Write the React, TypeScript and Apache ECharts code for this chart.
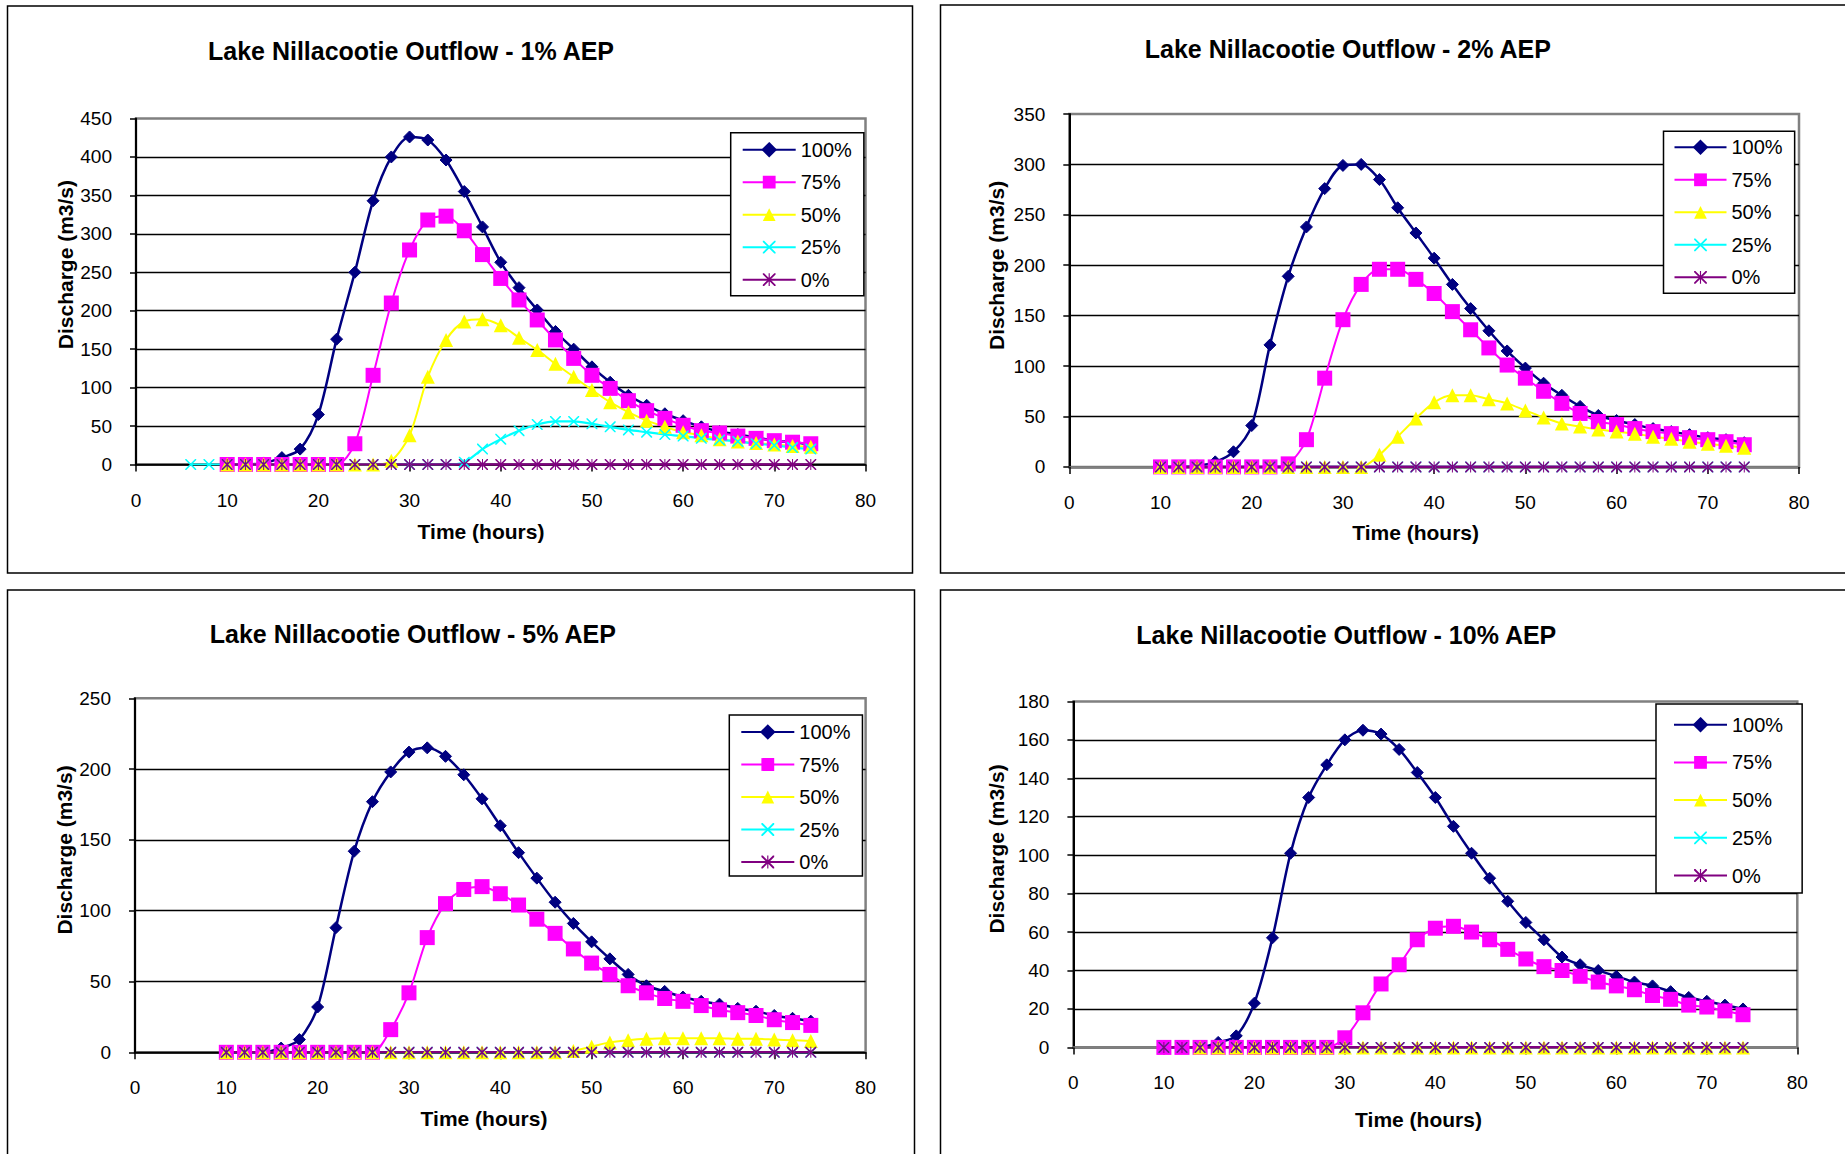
import React, { useEffect, useRef } from 'react';
import * as echarts from 'echarts';

// ---------- DATA ----------
const HOURS = [10, 12, 14, 16, 18, 20, 22, 24, 26, 28, 30, 32, 34, 36, 38, 40, 42, 44, 46, 48, 50, 52, 54, 56, 58, 60, 62, 64, 66, 68, 70, 72, 74];
const HOURS_EARLY = [6, 8, 10, 12, 14, 16, 18, 20, 22, 24, 26, 28, 30, 32, 34, 36, 38, 40, 42, 44, 46, 48, 50, 52, 54, 56, 58, 60, 62, 64, 66, 68, 70, 72, 74];

const SERIES_NAMES = ['100%', '75%', '50%', '25%', '0%'];
const X_TICKS = { min: 0, max: 80, step: 10 };

// 1% AEP
const AEP1_100 = [0, 0, 2, 9, 20, 65, 163, 250, 343, 400, 426, 422, 396, 355, 309, 263, 230, 201, 173, 150, 127, 107, 90, 77, 66, 57, 49, 43, 39, 35, 31, 29, 26];
const AEP1_75 = [0, 0, 0, 0, 0, 0, 0, 27, 116, 210, 279, 318, 323, 304, 273, 242, 214, 188, 162, 138, 116, 99, 83, 70, 60, 51, 44, 41, 37, 34, 31, 29, 27];
const AEP1_50 = [0, 0, 0, 0, 0, 0, 0, 0, 0, 5, 38, 114, 162, 186, 189, 181, 165, 149, 131, 114, 97, 81, 68, 57, 49, 42, 38, 33, 30, 28, 26, 24, 23];
const AEP1_25 = [0, 0, 0, 0, 0, 0, 0, 0, 0, 0, 0, 0, 0, 0, 0, 3, 20, 33, 44, 52, 56, 56, 53, 49, 45, 42, 39, 37, 34, 32, 30, 27, 25, 22, 20];
const AEP1_0 = [0, 0, 0, 0, 0, 0, 0, 0, 0, 0, 0, 0, 0, 0, 0, 0, 0, 0, 0, 0, 0, 0, 0, 0, 0, 0, 0, 0, 0, 0, 0, 0, 0];

// 2% AEP
const AEP2_100 = [0, 0, 1, 5, 15, 41, 121, 189, 238, 276, 299, 300, 285, 257, 232, 207, 181, 157, 135, 115, 98, 83, 71, 60, 51, 46, 42, 38, 35, 32, 29, 27, 24];
const AEP2_75 = [0, 0, 0, 0, 0, 0, 0, 3, 27, 88, 146, 181, 196, 196, 186, 172, 154, 136, 118, 101, 88, 75, 63, 53, 45, 42, 38, 35, 33, 29, 27, 25, 22];
const AEP2_50 = [0, 0, 0, 0, 0, 0, 0, 0, 0, 0, 0, 0, 12, 30, 48, 64, 71, 71, 67, 63, 56, 49, 43, 40, 37, 35, 33, 30, 28, 25, 23, 21, 19];
const AEP2_25 = [0, 0, 0, 0, 0, 0, 0, 0, 0, 0, 0, 0, 0, 0, 0, 0, 0, 0, 0, 0, 0, 0, 0, 0, 0, 0, 0, 0, 0, 0, 0, 0, 0];
const AEP2_0 = [0, 0, 0, 0, 0, 0, 0, 0, 0, 0, 0, 0, 0, 0, 0, 0, 0, 0, 0, 0, 0, 0, 0, 0, 0, 0, 0, 0, 0, 0, 0, 0, 0];

// 5% AEP
const AEP5_100 = [0, 0, 0, 3, 9, 32, 88, 142, 177, 198, 212, 215, 209, 196, 179, 160, 141, 123, 106, 91, 78, 66, 55, 47, 43, 39, 36, 34, 31, 29, 26, 24, 22];
const AEP5_75 = [0, 0, 0, 0, 0, 0, 0, 0, 0, 16, 42, 81, 105, 115, 117, 112, 104, 94, 84, 73, 63, 55, 47, 42, 38, 36, 33, 30, 28, 26, 23, 21, 19];
const AEP5_50 = [0, 0, 0, 0, 0, 0, 0, 0, 0, 0, 0, 0, 0, 0, 0, 0, 0, 0, 0, 1, 4, 7, 8.5, 9.5, 10, 10, 10, 10, 9.5, 9.5, 9, 8.5, 8];
const AEP5_25 = [0, 0, 0, 0, 0, 0, 0, 0, 0, 0, 0, 0, 0, 0, 0, 0, 0, 0, 0, 0, 0, 0, 0, 0, 0, 0, 0, 0, 0, 0, 0, 0, 0];
const AEP5_0 = [0, 0, 0, 0, 0, 0, 0, 0, 0, 0, 0, 0, 0, 0, 0, 0, 0, 0, 0, 0, 0, 0, 0, 0, 0, 0, 0, 0, 0, 0, 0, 0, 0];

// 10% AEP
const AEP10_100 = [0, 0, 0, 2.6, 6, 23, 57, 101, 130, 147, 160, 165, 163, 155, 143, 130, 115, 101, 88, 76, 65, 56, 47, 43, 40, 37, 34, 32, 29, 26, 24, 22, 20];
const AEP10_75 = [0, 0, 0, 0, 0, 0, 0, 0, 0, 0, 5, 18, 33, 43, 56, 62, 63, 60, 56, 51, 46, 42, 40, 37, 34, 32, 30, 27, 25, 22, 21, 19, 17];
const AEP10_50 = [null, null, 0, 0, 0, 0, 0, 0, 0, 0, 0, 0, 0, 0, 0, 0, 0, 0, 0, 0, 0, 0, 0, 0, 0, 0, 0, 0, 0, 0, 0, 0, 0];
const AEP10_25 = [0, 0, 0, 0, 0, 0, 0, 0, 0, 0, 0, 0, 0, 0, 0, 0, 0, 0, 0, 0, 0, 0, 0, 0, 0, 0, 0, 0, 0, 0, 0, 0, 0];
const AEP10_0 = [0, 0, 0, 0, 0, 0, 0, 0, 0, 0, 0, 0, 0, 0, 0, 0, 0, 0, 0, 0, 0, 0, 0, 0, 0, 0, 0, 0, 0, 0, 0, 0, 0];

const TITLES = [
  'Lake Nillacootie Outflow - 1% AEP',
  'Lake Nillacootie Outflow - 2% AEP',
  'Lake Nillacootie Outflow - 5% AEP',
  'Lake Nillacootie Outflow - 10% AEP',
];
const Y_MAX = [450, 350, 250, 180];
const Y_STEP = [50, 50, 50, 20];
const Y_TITLE = 'Discharge (m3/s)';
const X_TITLE = 'Time (hours)';

const PANEL_DATA = [
  { values: [AEP1_100, AEP1_75, AEP1_50, AEP1_25, AEP1_0], hours: [HOURS, HOURS, HOURS, HOURS_EARLY, HOURS] },
  { values: [AEP2_100, AEP2_75, AEP2_50, AEP2_25, AEP2_0], hours: [HOURS, HOURS, HOURS, HOURS, HOURS] },
  { values: [AEP5_100, AEP5_75, AEP5_50, AEP5_25, AEP5_0], hours: [HOURS, HOURS, HOURS, HOURS, HOURS] },
  { values: [AEP10_100, AEP10_75, AEP10_50, AEP10_25, AEP10_0], hours: [HOURS, HOURS, HOURS, HOURS, HOURS] },
];

// ---------- LAYOUT / STYLE ----------
const FONT = '"Liberation Sans", Arial, Helvetica, sans-serif';

const LAYOUT = [
  {
    frame: { x: 7.5, y: 6, w: 905, h: 567 },
    grid: { left: 136, top: 118.5, width: 729.5, height: 346 },
    title: [411, 50.7], yTitle: [65.7, 264.6], xTitle: [481, 531.6],
    legend: { left: 730.7, top: 132.7, padding: [7, 12, 6, 11], itemGap: 12.5, itemWidth: 53 },
    xLine: '#000000',
  },
  {
    frame: { x: 940.5, y: 5, w: 912, h: 568 },
    grid: { left: 1069.3, top: 114, width: 729.7, height: 352.9 },
    title: [1347.8, 48.8], yTitle: [996.7, 265.4], xTitle: [1415.6, 532.7],
    legend: { left: 1663.5, top: 131.3, padding: [6, 12, 6, 10], itemGap: 12.5, itemWidth: 52 },
    xLine: '#808080',
  },
  {
    frame: { x: 7.5, y: 590, w: 907, h: 570 },
    grid: { left: 135, top: 698.3, width: 730.6, height: 354 },
    title: [412.8, 633.8], yTitle: [64.6, 850], xTitle: [484, 1118],
    legend: { left: 729.3, top: 715, padding: [7, 12, 4, 11], itemGap: 12.5, itemWidth: 53 },
    xLine: '#000000',
  },
  {
    frame: { x: 940.5, y: 590, w: 912, h: 570 },
    grid: { left: 1073.4, top: 701.4, width: 723.9, height: 346 },
    title: [1346.3, 634.9], yTitle: [996.7, 849], xTitle: [1418.5, 1119.9],
    legend: { left: 1656, top: 704, padding: [10.7, 19, 7.6, 17], itemGap: 17.7, itemWidth: 53 },
    xLine: '#808080',
  },
];

const X_PATH = 'path://M0,0 L1,0 L10,9 L10,10 L9,10 L0,1 Z M9,0 L10,0 L10,1 L1,10 L0,10 L0,9 Z';
const STAR_PATH = 'path://M0,0 L1,0 L10,9 L10,10 L9,10 L0,1 Z M9,0 L10,0 L10,1 L1,10 L0,10 L0,9 Z M4.55,0 L5.45,0 L5.45,10 L4.55,10 Z';

const SERIES_STYLE = [
  { color: '#000080', symbol: 'diamond', size: 12, width: 2.5, border: 1 },
  { color: '#FF00FF', symbol: 'rect', size: 15, width: 2, border: 0 },
  { color: '#FFFF00', symbol: 'triangle', size: 14, width: 2, border: 0 },
  { color: '#00FFFF', symbol: X_PATH, size: 11, width: 2.2, border: 0 },
  { color: '#800080', symbol: STAR_PATH, size: 11, width: 2.6, border: 0 },
];

function buildOption() {
  const grid: any[] = [];
  const xAxis: any[] = [];
  const yAxis: any[] = [];
  const legend: any[] = [];
  const series: any[] = [];
  const graphic: any[] = [];

  LAYOUT.forEach((L, i) => {
    graphic.push({
      type: 'rect', z: 0, silent: true,
      shape: { x: L.frame.x, y: L.frame.y, width: L.frame.w, height: L.frame.h },
      style: { fill: 'none', stroke: '#000', lineWidth: 1.5 },
    });
    graphic.push({
      type: 'text', x: L.title[0], y: L.title[1], z: 10,
      style: { text: TITLES[i], fill: '#000', fontSize: 25, fontWeight: 'bold', fontFamily: FONT, align: 'center', verticalAlign: 'middle' },
    });
    graphic.push({
      type: 'text', x: L.yTitle[0], y: L.yTitle[1], rotation: Math.PI / 2, z: 10,
      style: { text: Y_TITLE, fill: '#000', fontSize: 21, fontWeight: 'bold', fontFamily: FONT, align: 'center', verticalAlign: 'middle' },
    });
    graphic.push({
      type: 'text', x: L.xTitle[0], y: L.xTitle[1], z: 10,
      style: { text: X_TITLE, fill: '#000', fontSize: 21, fontWeight: 'bold', fontFamily: FONT, align: 'center', verticalAlign: 'middle' },
    });

    grid.push({
      left: L.grid.left, top: L.grid.top, width: L.grid.width, height: L.grid.height,
      show: true, backgroundColor: '#fff', borderColor: '#808080', borderWidth: 2.5,
    });

    xAxis.push({
      type: 'value', gridIndex: i, min: X_TICKS.min, max: X_TICKS.max, interval: X_TICKS.step,
      axisLine: { show: true, onZero: false, lineStyle: { color: L.xLine, width: L.xLine === '#000000' ? 1.5 : 2.5 } },
      axisTick: { show: true, length: 7, lineStyle: { color: '#000', width: 1.5 } },
      axisLabel: { color: '#000', fontSize: 19, fontFamily: FONT, margin: 26 },
      splitLine: { show: false },
    });

    yAxis.push({
      type: 'value', gridIndex: i, min: 0, max: Y_MAX[i], interval: Y_STEP[i],
      axisLine: { show: true, lineStyle: { color: '#000', width: 2 } },
      axisTick: { show: true, length: 6, lineStyle: { color: '#000', width: 1.5 } },
      axisLabel: { color: '#000', fontSize: 19, fontFamily: FONT, margin: 24 },
      splitLine: { show: true, showMaxLine: false, lineStyle: { color: '#000', width: 1.3 } },
    });

    legend.push({
      orient: 'vertical',
      left: L.legend.left, top: L.legend.top,
      padding: L.legend.padding, itemGap: L.legend.itemGap,
      itemWidth: L.legend.itemWidth, itemHeight: 16,
      backgroundColor: '#fff', borderColor: '#000', borderWidth: 1.5,
      textStyle: { color: '#000', fontSize: 20, fontFamily: FONT, lineHeight: 20 },
      data: SERIES_NAMES,
      selectedMode: false,
    });

    const P = PANEL_DATA[i];
    SERIES_NAMES.forEach((name, k) => {
      const st = SERIES_STYLE[k];
      const hrs = P.hours[k];
      const vals = P.values[k];
      const data = hrs
        .map((h, j) => [h, vals[j]])
        .filter((d) => d[1] !== null && d[1] !== undefined);
      series.push({
        type: 'line', name, xAxisIndex: i, yAxisIndex: i,
        data,
        smooth: 0.3,
        symbol: st.symbol, symbolSize: st.size,
        showAllSymbol: true,
        lineStyle: { color: st.color, width: st.width },
        itemStyle: { color: st.color, borderColor: st.color, borderWidth: st.border },
        z: 2,
      });
    });
  });

  return {
    animation: false,
    backgroundColor: '#fff',
    grid, xAxis, yAxis, legend, series, graphic,
  };
}

export default function App() {
  const ref = useRef<HTMLDivElement>(null);
  useEffect(() => {
    if (!ref.current) return;
    const chart = echarts.init(ref.current, null, { renderer: 'svg', width: 1845, height: 1154 });
    chart.setOption(buildOption() as any);
    return () => chart.dispose();
  }, []);
  return (
    <div
      ref={ref}
      style={{ position: 'absolute', left: 0, top: 0, width: 1845, height: 1154, background: '#fff' }}
    />
  );
}
